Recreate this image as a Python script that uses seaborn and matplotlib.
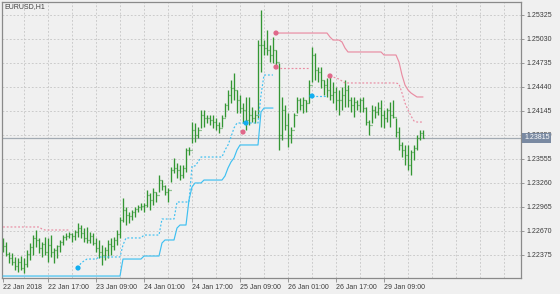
import numpy as np
import pandas as pd
import matplotlib
matplotlib.use("Agg")
import matplotlib.pyplot as plt
import seaborn as sns
from matplotlib.transforms import blended_transform_factory

# ---------------- data (EURUSD H1) ----------------
symbol_title = "EURUSD,H1"
first_open = 1.22560
highs = [
    1.22584, 1.22534, 1.22411, 1.22399, 1.22350, 1.22338, 1.22362, 1.22338, 1.22436, 1.22522,
    1.22620, 1.22682, 1.22584, 1.22534, 1.22596, 1.22584, 1.22620, 1.22461, 1.22498, 1.22559,
    1.22620, 1.22645, 1.22657, 1.22645, 1.22682, 1.22768, 1.22743, 1.22706, 1.22719, 1.22657,
    1.22645, 1.22584, 1.22559, 1.22498, 1.22473, 1.22559, 1.22584, 1.22596, 1.22682, 1.22842,
    1.23075, 1.22965, 1.22903, 1.22928, 1.22965, 1.22989, 1.23014, 1.23014, 1.23174, 1.23137,
    1.23198, 1.23149, 1.23358, 1.23296, 1.23235, 1.23198, 1.23456, 1.23567, 1.23505, 1.23481,
    1.23481, 1.23690, 1.23702, 1.24009, 1.23997, 1.23948, 1.24157, 1.24157, 1.24095, 1.24095,
    1.24095, 1.24058, 1.24009, 1.24095, 1.24243, 1.24403, 1.24526, 1.24612, 1.24403, 1.24341,
    1.24243, 1.24317, 1.24317, 1.24194, 1.24157, 1.25017, 1.25386, 1.25017, 1.25140, 1.24956,
    1.25054, 1.24894, 1.24735, 1.24317, 1.24218, 1.24120, 1.23948, 1.24120, 1.24317, 1.24304,
    1.24317, 1.24280, 1.24526, 1.24931, 1.24858, 1.24685, 1.24685, 1.24526, 1.24550, 1.24563,
    1.24501, 1.24440, 1.24403, 1.24440, 1.24526, 1.24464, 1.24317, 1.24317, 1.24280, 1.24304,
    1.24317, 1.24194, 1.24034, 1.24218, 1.24206, 1.24255, 1.24280, 1.24157, 1.24181, 1.24255,
    1.24280, 1.24058, 1.23948, 1.23764, 1.23727, 1.23727, 1.23665, 1.23727, 1.23850, 1.23911,
    1.23911,
]
lows = [
    1.22411, 1.22362, 1.22276, 1.22252, 1.22190, 1.22166, 1.22190, 1.22153, 1.22227, 1.22313,
    1.22375, 1.22473, 1.22399, 1.22350, 1.22375, 1.22289, 1.22350, 1.22276, 1.22338, 1.22411,
    1.22498, 1.22559, 1.22584, 1.22534, 1.22559, 1.22596, 1.22584, 1.22534, 1.22522, 1.22522,
    1.22498, 1.22411, 1.22338, 1.22252, 1.22313, 1.22338, 1.22375, 1.22436, 1.22498, 1.22584,
    1.22780, 1.22743, 1.22768, 1.22805, 1.22842, 1.22903, 1.22928, 1.22903, 1.22965, 1.22928,
    1.22989, 1.23026, 1.23149, 1.23174, 1.23112, 1.23026, 1.23272, 1.23383, 1.23321, 1.23296,
    1.23321, 1.23395, 1.23604, 1.23751, 1.23764, 1.23813, 1.23936, 1.23948, 1.23997, 1.23972,
    1.23936, 1.23911, 1.23874, 1.23948, 1.24071, 1.24157, 1.24243, 1.24280, 1.24120, 1.24120,
    1.23997, 1.23911, 1.23972, 1.24009, 1.23997, 1.24058, 1.24624, 1.24833, 1.24833, 1.24747,
    1.24735, 1.24710, 1.23665, 1.23788, 1.23911, 1.23702, 1.23751, 1.23948, 1.24120, 1.24157,
    1.24120, 1.24132, 1.24243, 1.24501, 1.24526, 1.24501, 1.24427, 1.24341, 1.24317, 1.24280,
    1.24243, 1.24157, 1.24095, 1.24157, 1.24194, 1.24194, 1.24132, 1.24071, 1.24157, 1.24132,
    1.24132, 1.23972, 1.23850, 1.23997, 1.24058, 1.24095, 1.23948, 1.23936, 1.24009, 1.23948,
    1.24058, 1.23825, 1.23665, 1.23579, 1.23481, 1.23419, 1.23358, 1.23542, 1.23665, 1.23788,
    1.23813,
]
closes = [
    1.22485, 1.22387, 1.22338, 1.22289, 1.22239, 1.22289, 1.22215, 1.22264, 1.22387, 1.22473,
    1.22584, 1.22559, 1.22461, 1.22510, 1.22411, 1.22498, 1.22411, 1.22436, 1.22485, 1.22534,
    1.22596, 1.22608, 1.22633, 1.22608, 1.22657, 1.22706, 1.22645, 1.22584, 1.22559, 1.22608,
    1.22522, 1.22461, 1.22411, 1.22375, 1.22436, 1.22510, 1.22485, 1.22559, 1.22633, 1.22805,
    1.22928, 1.22866, 1.22854, 1.22903, 1.22940, 1.22965, 1.22977, 1.22989, 1.23112, 1.23051,
    1.23149, 1.23112, 1.23296, 1.23223, 1.23149, 1.23174, 1.23419, 1.23444, 1.23419, 1.23358,
    1.23444, 1.23665, 1.23665, 1.23911, 1.23850, 1.23911, 1.24095, 1.24058, 1.24058, 1.24034,
    1.24009, 1.23972, 1.23936, 1.24058, 1.24218, 1.24341, 1.24427, 1.24403, 1.24280, 1.24181,
    1.24157, 1.24034, 1.24095, 1.24058, 1.24095, 1.24956, 1.24956, 1.24919, 1.24894, 1.24833,
    1.24894, 1.24747, 1.23850, 1.24157, 1.23972, 1.23850, 1.23911, 1.24095, 1.24280, 1.24218,
    1.24280, 1.24243, 1.24464, 1.24833, 1.24649, 1.24624, 1.24526, 1.24464, 1.24403, 1.24341,
    1.24378, 1.24280, 1.24280, 1.24341, 1.24403, 1.24280, 1.24218, 1.24255, 1.24218, 1.24280,
    1.24181, 1.24009, 1.23972, 1.24157, 1.24132, 1.24181, 1.24095, 1.24058, 1.24157, 1.24095,
    1.24071, 1.23886, 1.23727, 1.23665, 1.23604, 1.23481, 1.23641, 1.23690, 1.23813, 1.23874,
    1.23815,
]
bid_price = 1.23815
bid_label = "1.23815"

# indicator segments: (first bar index, values)
red_dotted = [
    (0, [1.22719] * 13 + [1.22694] + [1.22682] * 9),
    (91, [1.24673] * 12),
    (109, [1.24575, 1.24563, 1.24550, 1.24538, 1.24513] + [1.24489] * 18
     + [1.24477, 1.24366, 1.24243, 1.24157, 1.24083, 1.24022, 1.24009, 1.24009, 1.24009]),
]
red_solid = [
    (91, [1.25103] * 18 + [1.25054, 1.25017, 1.25017, 1.25017, 1.24993, 1.24919]
     + [1.24870] * 12 + [1.24833] * 5
     + [1.24747, 1.24587, 1.24464, 1.24403, 1.24366, 1.24341, 1.24317, 1.24317, 1.24317]),
]
blue_dotted = [
    (25, [1.22215, 1.22276, 1.22301] + [1.22325] * 4 + [1.22350] * 8 + [1.22498]
     + [1.22584] * 6 + [1.22620] * 6 + [1.22817] * 5 + [1.23026] * 5
     + [1.23469, 1.23469, 1.23518] + [1.23579] * 8
     + [1.23665, 1.23727, 1.23825, 1.23936] + [1.23997] * 8
     + [1.24341, 1.24587, 1.24587, 1.24587, 1.24587]),
    (103, [1.24329] * 6),
]
blue_solid = [
    (0, [1.22116] * 40 + [1.22325] * 7 + [1.22362] * 6 + [1.22522] + [1.22559] * 4
     + [1.22706] + [1.22743] * 3 + [1.23051, 1.23210, 1.23260, 1.23260, 1.23260]
     + [1.23296] * 7 + [1.23346, 1.23444, 1.23518, 1.23567, 1.23665]
     + [1.23727] * 7 + [1.24132, 1.24181, 1.24181, 1.24181, 1.24181]),
]
red_dot_bars = [80, 91, 91, 109]
red_dot_prices = [1.23886, 1.25103, 1.24685, 1.24575]
blue_dot_bars = [25, 81, 103]
blue_dot_prices = [1.22215, 1.23997, 1.24329]

time_tick_bars = [0, 15, 31, 47, 63, 79, 95, 111, 127]
time_tick_labels = ["22 Jan 2018", "22 Jan 17:00", "23 Jan 09:00", "24 Jan 01:00",
                    "24 Jan 17:00", "25 Jan 09:00", "26 Jan 01:00", "26 Jan 17:00",
                    "29 Jan 09:00"]
price_tick_labels = ["1.22375", "1.22670", "1.22965", "1.23260", "1.23555", "1.23850",
                     "1.24145", "1.24440", "1.24735", "1.25030", "1.25325"]

# ---------------- styling ----------------
BG = "#f0f0f0"
GRID = "#c6c6c6"
TXT = "#3c3c3c"
FRAME = "#8a8a8a"
GREEN = "#339633"
PINK = "#e98ca2"
PINK_DOT = "#e0688a"
BLUE = "#3fc0f0"
BLUE_DOT = "#12aef0"

sns.set_theme(style="white", rc={"axes.facecolor": BG, "figure.facecolor": BG})
plt.rcParams["font.family"] = ["Liberation Sans", "DejaVu Sans"]

W, H = 560, 294
L, R, T, B = 1.7, 520.7, 1.7, 277.7
fig = plt.figure(figsize=(W / 100, H / 100), dpi=100, facecolor=BG)
ax = fig.add_axes([L / W, (H - B) / H, (R - L) / W, (B - T) / H], facecolor=BG)

n = len(closes)
x = np.arange(n)
opens = [first_open] + closes[:-1]

# axis ranges: 3 px per bar, bar i at pixel 3 + 3 i
ax.set_xlim((L - 3) / 3, (R - 3) / 3)
ax.set_ylim(1.25509 - 0.00012292 * B, 1.25509 - 0.00012292 * T)

# grid
for gx in range(7, 173, 8):
    ax.axvline(gx, color=GRID, lw=0.6, ls=(0, (2.2, 2.2)), zorder=0)
for lab in price_tick_labels:
    ax.axhline(float(lab), color=GRID, lw=0.6, ls=(0, (2.2, 2.2)), zorder=0)

# bid line
ax.axhline(bid_price, color="#a2aab2", lw=0.9, zorder=1)

# OHLC bars
ax.vlines(x, lows, highs, color=GREEN, lw=0.95, zorder=2)
ax.hlines(opens, x - 0.4, x, color=GREEN, lw=0.9, zorder=2)
ax.hlines(closes, x, x + 0.4, color=GREEN, lw=0.9, zorder=2)

def draw(segs, color, ls):
    for start, vals in segs:
        df = pd.DataFrame({"bar": np.arange(start, start + len(vals)), "price": vals})
        sns.lineplot(data=df, x="bar", y="price", ax=ax, color=color, lw=0.85,
                     linestyle=ls, estimator=None, sort=False, legend=False, zorder=3)

draw(red_solid, PINK, "-")
draw(red_dotted, PINK, (0, (1.6, 1.6)))
draw(blue_solid, BLUE, "-")
draw(blue_dotted, BLUE, (0, (1.6, 1.6)))

sns.scatterplot(x=red_dot_bars, y=red_dot_prices, ax=ax, color=PINK_DOT, s=14,
                edgecolor="none", legend=False, zorder=4)
sns.scatterplot(x=blue_dot_bars, y=blue_dot_prices, ax=ax, color=BLUE_DOT, s=14,
                edgecolor="none", legend=False, zorder=4)

# axes, ticks
for sp in ax.spines.values():
    sp.set_visible(True)
    sp.set_color(FRAME)
    sp.set_linewidth(0.9)

ax.set_xticks(time_tick_bars)
ax.set_xticklabels(time_tick_labels)
for t in ax.get_xticklabels():
    t.set_ha("left")
ax.tick_params(axis="x", direction="out", length=3, width=0.6, color=FRAME,
               labelsize=5, labelcolor=TXT, pad=1.5, bottom=True)

ax.yaxis.tick_right()
ax.set_yticks([float(v) for v in price_tick_labels])
ax.set_yticklabels(price_tick_labels)
ax.tick_params(axis="y", direction="out", length=2.5, width=0.6, color=FRAME,
               labelsize=5, labelcolor=TXT, pad=1.5, right=True, left=False)
ax.set_xlabel("")
ax.set_ylabel("")

# current price box (covers the 1.23850 label, as in the terminal)
tr = blended_transform_factory(ax.transAxes, ax.transData)
ax.text(1.0 + 3.3 / (R - L), bid_price, bid_label, transform=tr, ha="left", va="center",
        fontsize=5, color="white", zorder=6, clip_on=False,
        bbox=dict(boxstyle="square,pad=0.25", fc="#7a8aa2", ec="none"))

# title
ax.text(2.5 / (R - L), 1 - 1.5 / (B - T), symbol_title, transform=ax.transAxes,
        ha="left", va="top", fontsize=5, color=TXT)

fig.savefig("out.png", dpi=100, facecolor=BG)
